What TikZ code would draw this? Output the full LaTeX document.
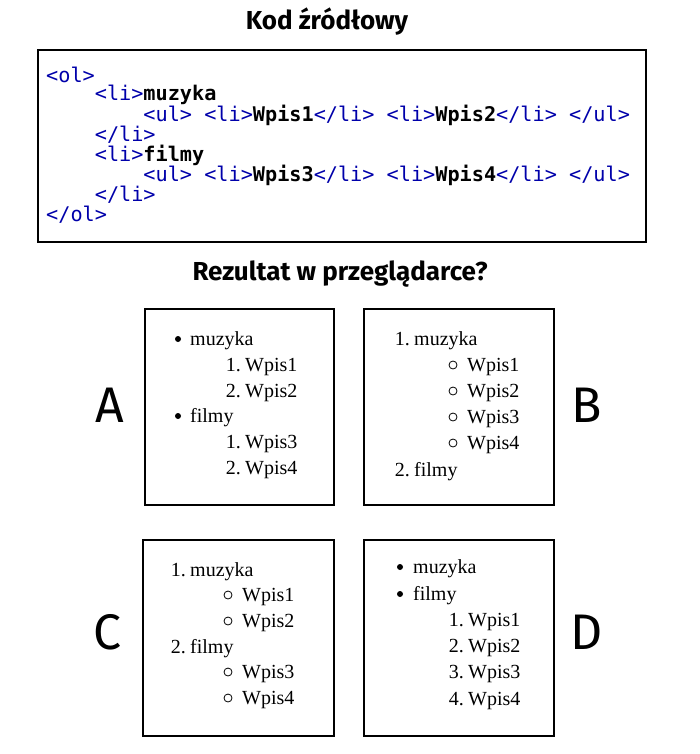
\documentclass[tikz,border=0pt]{standalone}
\usepackage{fontspec}
\setmainfont{Liberation Serif}
\newfontfamily\hsans{Fira Sans}
\newfontfamily\cmono{DejaVu Sans Mono}
\definecolor{tagc}{RGB}{0,0,170}
\begin{document}
\begin{tikzpicture}[x=1pt,y=-1pt,
  box/.style={draw,line width=1.6pt},
  code/.style={anchor=west,inner sep=0,font=\cmono\fontsize{20.2}{20}\selectfont,text=tagc},
  ttl/.style={font=\hsans\bfseries\fontsize{26}{30}\selectfont},
  let/.style={font=\hsans\fontsize{50}{52}\selectfont},
  it/.style={anchor=base west,inner sep=0,font=\fontsize{20}{22}\selectfont},
  num/.style={anchor=base east,inner sep=0,font=\fontsize{20}{22}\selectfont},
  bul/.style={circle,fill,inner sep=0,minimum size=6pt},
  circ/.style={circle,draw,line width=0.8pt,inner sep=0,minimum size=8pt}]
\useasboundingbox (0,0) rectangle (700,754);
\node[ttl] (t1) at (327,22) {Kod źródłowy};
\draw[box] (38,50) rectangle (646,242);
\newcommand{\bw}[1]{\textcolor{black}{\bfseries #1}}
\node[code] (c1) at (46,75) {<ol>};
\node[code] (c2) at (46,95) {\ \ \ \ <li>\bw{muzyka}};
\node[code] (c3) at (46,115) {\ \ \ \ \ \ \ \ <ul> <li>\bw{Wpis1}</li> <li>\bw{Wpis2}</li> </ul>};
\node[code] (c4) at (46,135) {\ \ \ \ </li>};
\node[code] (c5) at (46,155) {\ \ \ \ <li>\bw{filmy}};
\node[code] (c6) at (46,175) {\ \ \ \ \ \ \ \ <ul> <li>\bw{Wpis3}</li> <li>\bw{Wpis4}</li> </ul>};
\node[code] (c7) at (46,195) {\ \ \ \ </li>};
\node[code] (c8) at (46,215) {</ol>};
\node[ttl] (t2) at (340,274) {Rezultat w przeglądarce?};
% boxes
\draw[box] (145,309) rectangle (334,505);
\draw[box] (364,309) rectangle (554,505);
\draw[box] (143,540) rectangle (334,736);
\draw[box] (364,540) rectangle (554,736);
\node[let] (la) at (110,405) {A};
\node[let] (lb) at (587,405) {B};
\node[let] (lc) at (107,632) {C};
\node[let] (ld) at (587,632) {D};
% A
\node[bul] (a1) at (178,339) {}; \node[it] (a1t) at (190,345) {muzyka};
\node[num] (a2n) at (241,371) {1.}; \node[it] (a2) at (245,371) {Wpis1};
\node[num] (a3n) at (241,397) {2.}; \node[it] (a3) at (245,397) {Wpis2};
\node[bul] (a4) at (178,416) {}; \node[it] (a4t) at (190,422) {filmy};
\node[num] (a5n) at (241,448) {1.}; \node[it] (a5) at (245,448) {Wpis3};
\node[num] (a6n) at (241,474) {2.}; \node[it] (a6) at (245,474) {Wpis4};
% B
\node[num] (b1n) at (410,345) {1.}; \node[it] (b1) at (414,345) {muzyka};
\node[circ] (b2c) at (453,365) {}; \node[it] (b2) at (467,371) {Wpis1};
\node[circ] (b3c) at (453,391) {}; \node[it] (b3) at (467,397) {Wpis2};
\node[circ] (b4c) at (453,417) {}; \node[it] (b4) at (467,423) {Wpis3};
\node[circ] (b5c) at (453,443) {}; \node[it] (b5) at (467,449) {Wpis4};
\node[num] (b6n) at (410,476) {2.}; \node[it] (b6) at (414,476) {filmy};
% C
\node[num] (c1n) at (186,576) {1.}; \node[it] (cc1) at (190,576) {muzyka};
\node[circ] (cc2c) at (228,595) {}; \node[it] (cc2) at (242,601) {Wpis1};
\node[circ] (cc3c) at (228,621) {}; \node[it] (cc3) at (242,627) {Wpis2};
\node[num] (c4n) at (186,653) {2.}; \node[it] (cc4) at (190,653) {filmy};
\node[circ] (cc5c) at (228,672) {}; \node[it] (cc5) at (242,678) {Wpis3};
\node[circ] (cc6c) at (228,698) {}; \node[it] (cc6) at (242,704) {Wpis4};
% D
\node[bul] (d1) at (400,567) {}; \node[it] (d1t) at (413,573) {muzyka};
\node[bul] (d2) at (400,594) {}; \node[it] (d2t) at (413,600) {filmy};
\node[num] (d3n) at (464,626) {1.}; \node[it] (d3) at (468,626) {Wpis1};
\node[num] (d4n) at (464,652) {2.}; \node[it] (d4) at (468,652) {Wpis2};
\node[num] (d5n) at (464,678) {3.}; \node[it] (d5) at (468,678) {Wpis3};
\node[num] (d6n) at (464,705) {4.}; \node[it] (d6) at (468,705) {Wpis4};
\end{tikzpicture}
\end{document}
